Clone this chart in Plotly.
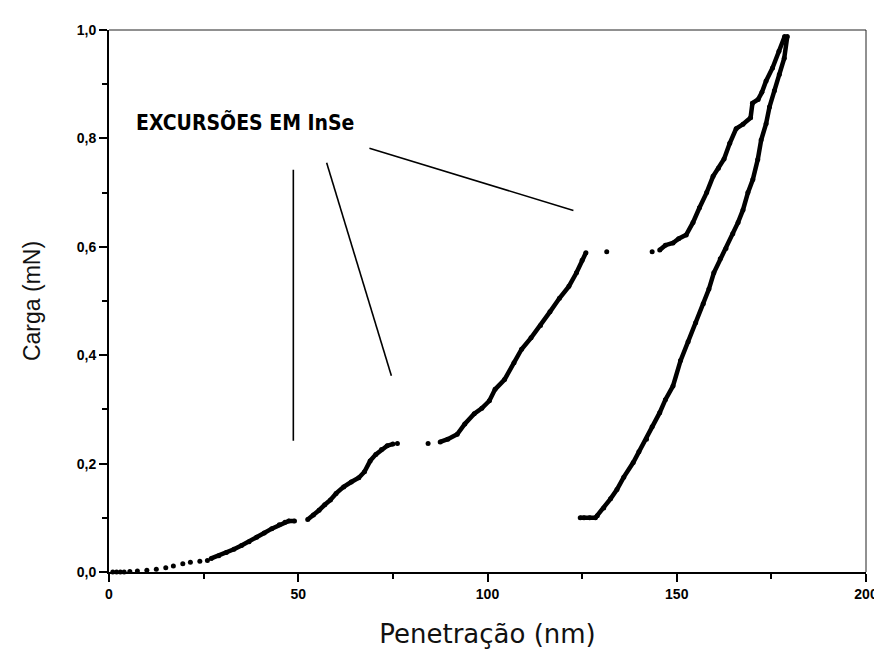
import plotly.graph_objects as go

# ---------------- data ----------------
# loading curve, split at the pop-in excursions
load_a0_x = [1.0, 2.0, 3.0, 4.0, 5.5, 7.5, 10.0, 12.5, 15.0, 17.0, 19.5, 21.5, 24.0, 26.0]
load_a0_y = [0.0, 0.0, 0.0, 0.0, 0.001, 0.002, 0.003, 0.005, 0.008, 0.011, 0.015, 0.018, 0.020, 0.021]

load_a_x = [27.0, 29.0, 31.0, 33.0, 35.0, 37.0, 39.0, 41.0, 43.0, 45.0, 46.5, 47.5, 49.0]
load_a_y = [0.025, 0.030, 0.036, 0.042, 0.049, 0.056, 0.064, 0.072, 0.080, 0.087, 0.092, 0.094, 0.094]

load_b_x = [52.5, 54.0, 55.5, 57.0, 58.5, 60.0, 62.0, 64.0, 66.0, 67.5, 69.0, 70.5, 72.0, 73.5, 75.0]
load_b_y = [0.097, 0.105, 0.114, 0.124, 0.133, 0.145, 0.157, 0.166, 0.174, 0.185, 0.205, 0.217, 0.226, 0.233, 0.236]

load_c_x = [87.5, 89.5, 92.0, 94.0, 96.5, 98.5, 100.5, 102.0, 104.5, 107.0, 109.0, 111.5,
            114.0, 116.5, 119.0, 121.5, 123.5, 125.0, 126.0]
load_c_y = [0.240, 0.245, 0.254, 0.273, 0.292, 0.302, 0.316, 0.337, 0.355, 0.386, 0.411, 0.432,
            0.455, 0.480, 0.505, 0.527, 0.552, 0.575, 0.589]

load_d_x = [145.5, 147.0, 149.0, 150.5, 152.5, 154.3, 156.0, 157.9, 159.6, 161.0, 162.5, 164.0,
            165.7, 167.5, 169.5, 170.0, 171.5, 172.5, 173.6, 175.3, 177.0, 178.5]
load_d_y = [0.594, 0.603, 0.607, 0.615, 0.622, 0.645, 0.672, 0.700, 0.730, 0.745, 0.762, 0.791,
            0.818, 0.826, 0.838, 0.865, 0.872, 0.885, 0.906, 0.930, 0.961, 0.988]

# isolated points inside the excursions
popin_x = [76.2, 84.3, 131.5, 143.5]
popin_y = [0.237, 0.237, 0.591, 0.591]

# unloading curve
unload_x = [179.2, 178.4, 177.1, 175.8, 174.5, 173.6, 172.3, 171.4, 170.1, 168.8, 167.5, 166.2,
            164.8, 163.0, 161.5, 159.8, 158.5, 157.0, 155.0, 153.0, 151.0, 149.0, 147.0, 145.5,
            143.5, 142.0, 140.0, 138.5, 136.0, 134.2, 132.5, 130.7, 129.0, 128.5, 127.0, 125.5, 124.5]
unload_y = [0.988, 0.948, 0.918, 0.888, 0.858, 0.827, 0.797, 0.761, 0.724, 0.700, 0.668, 0.645,
            0.624, 0.597, 0.578, 0.552, 0.522, 0.495, 0.460, 0.425, 0.390, 0.343, 0.318, 0.294,
            0.268, 0.245, 0.222, 0.202, 0.175, 0.152, 0.135, 0.118, 0.104, 0.100, 0.100, 0.100, 0.100]

# pointer lines from the label to the excursions: (x0, y0, x1, y1)
pointer_x0 = [48.7, 57.5, 68.8]
pointer_y0 = [0.742, 0.755, 0.782]
pointer_x1 = [48.7, 74.6, 122.7]
pointer_y1 = [0.242, 0.362, 0.667]

label_text = "EXCURSÕES EM InSe"
label_x = 6.7
label_y = 0.83

x_ticks = [0, 50, 100, 150, 200]
y_ticks = [0.0, 0.2, 0.4, 0.6, 0.8, 1.0]
y_tick_labels = ["0,0", "0,2", "0,4", "0,6", "0,8", "1,0"]

# ---------------- figure ----------------
fig = go.Figure()
black = "#000000"

fig.add_trace(go.Scatter(x=load_a0_x, y=load_a0_y, mode="markers",
                         marker=dict(color=black, size=5), cliponaxis=False, showlegend=False))
for xs, ys in [(load_a_x, load_a_y), (load_b_x, load_b_y), (load_c_x, load_c_y),
               (load_d_x, load_d_y), (unload_x, unload_y)]:
    fig.add_trace(go.Scatter(x=xs, y=ys, mode="lines+markers",
                             line=dict(color=black, width=4.5),
                             marker=dict(color=black, size=5),
                             cliponaxis=False, showlegend=False))
fig.add_trace(go.Scatter(x=popin_x, y=popin_y, mode="markers",
                         marker=dict(color=black, size=5), showlegend=False))

for x0, y0, x1, y1 in zip(pointer_x0, pointer_y0, pointer_x1, pointer_y1):
    fig.add_shape(type="line", xref="x", yref="y", x0=x0, y0=y0, x1=x1, y1=y1,
                  line=dict(color=black, width=1.6))

# thin top and right frame
fig.add_shape(type="line", xref="paper", yref="paper", x0=0, y0=1, x1=1, y1=1,
              line=dict(color="#222222", width=1))
fig.add_shape(type="line", xref="paper", yref="paper", x0=1, y0=0, x1=1, y1=1,
              line=dict(color="#222222", width=1))

fig.add_annotation(x=label_x, y=label_y, xref="x", yref="y", text="<b>" + label_text + "</b>",
                   showarrow=False, xanchor="left", yanchor="middle",
                   font=dict(family="DejaVu Sans Condensed, Liberation Sans Narrow, Arial Narrow, sans-serif",
                             size=21, color=black))

tick_font = dict(family="Liberation Sans, Arial, sans-serif", size=14, color=black, weight="bold")

fig.update_xaxes(range=[0, 200], tickvals=x_ticks, ticktext=[str(v) for v in x_ticks],
                 showline=True, linecolor=black, linewidth=2, mirror=False,
                 ticks="outside", ticklen=8, tickwidth=2, tickcolor=black,
                 minor=dict(ticks="outside", ticklen=5, tickwidth=1.5, dtick=25, tick0=0, tickcolor=black),
                 showgrid=False, zeroline=False, tickfont=tick_font,
                 title=dict(text="Penetração (nm)", standoff=24,
                            font=dict(family="DejaVu Sans, sans-serif", size=26, color="#111111")))
fig.update_yaxes(range=[0, 1], tickvals=y_ticks, ticktext=y_tick_labels,
                 showline=True, linecolor=black, linewidth=2, mirror=False,
                 ticks="outside", ticklen=8, tickwidth=2, tickcolor=black,
                 minor=dict(ticks="outside", ticklen=5, tickwidth=1.5, dtick=0.1, tick0=0, tickcolor=black),
                 showgrid=False, zeroline=False, tickfont=tick_font,
                 title=dict(text="Carga (mN)", standoff=30,
                            font=dict(family="Liberation Sans, Arial, sans-serif", size=23, color="#111111")))

fig.update_layout(width=882, height=650,
                  margin=dict(l=101, r=15, t=22, b=86),
                  paper_bgcolor="white", plot_bgcolor="white")

fig.write_html("out.html")
